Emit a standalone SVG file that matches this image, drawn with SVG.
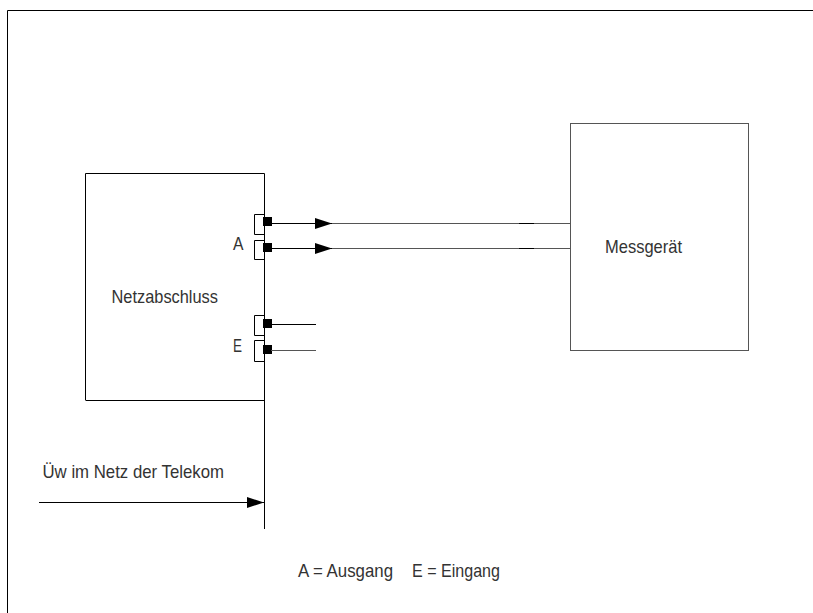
<svg xmlns="http://www.w3.org/2000/svg" width="813" height="613" viewBox="0 0 813 613">
<defs>
<style>
.ln{stroke:#000;stroke-width:1;fill:none}
.gl{stroke:#555;stroke-width:1;fill:none}
.t{font-family:"Liberation Sans",Arial,sans-serif;font-size:19px;fill:#333}
.sq{fill:#000}
</style>
<marker id="arr" viewBox="0 0 17 11" refX="17" refY="5.5" markerWidth="17" markerHeight="11" markerUnits="userSpaceOnUse" orient="auto">
<path d="M0,0 L17,5.5 L0,11 Z" fill="#000"/>
</marker>
</defs>
<rect width="813" height="613" fill="#fff"/>
<path class="ln" d="M7.5,613 V10.5 H813" stroke="#444"/>
<g id="netzabschluss">
<path class="ln" d="M85.5,400 V173.5 H264.5"/>
<line class="ln" x1="85.5" y1="400.5" x2="264.5" y2="400.5"/>
<text class="t" x="111.5" y="302.5" textLength="106.5" lengthAdjust="spacingAndGlyphs">Netzabschluss</text>
</g>
<g id="messgeraet">
<rect class="gl" x="570.5" y="123.5" width="178" height="227"/>
<text class="t" x="605" y="252.5" textLength="77" lengthAdjust="spacingAndGlyphs">Messgerät</text>
</g>
<g id="port-a">
<path class="ln" d="M264,214.5 H254.5 V234.5 H264"/>
<path class="ln" d="M264,240.5 H254.5 V259.5 H264"/>
<rect class="sq" x="263" y="217" width="9" height="9"/>
<rect class="sq" x="263" y="243" width="9" height="9"/>
<text class="t" x="233" y="250" textLength="10.5" lengthAdjust="spacingAndGlyphs">A</text>
</g>
<g id="port-e">
<path class="ln" d="M264,315.5 H254.5 V335.5 H264"/>
<path class="ln" d="M264,340.5 H254.5 V361.5 H264"/>
<rect class="sq" x="263" y="319" width="9" height="9"/>
<rect class="sq" x="263" y="345" width="9" height="9"/>
<text class="t" x="233" y="352" textLength="9" lengthAdjust="spacingAndGlyphs">E</text>
</g>
<g id="connectors">
<line class="ln" x1="264.5" y1="173.5" x2="264.5" y2="529"/>
<line class="ln" x1="271" y1="223.5" x2="332" y2="223.5" marker-end="url(#arr)"/>
<line class="gl" x1="332" y1="223.5" x2="570" y2="223.5"/>
<line class="ln" x1="519" y1="223.5" x2="534" y2="223.5"/>
<line class="ln" x1="271" y1="248.5" x2="332" y2="248.5" marker-end="url(#arr)"/>
<line class="gl" x1="332" y1="248.5" x2="570" y2="248.5"/>
<line class="ln" x1="519" y1="248.5" x2="534" y2="248.5"/>
<line class="ln" x1="271" y1="324.5" x2="316" y2="324.5"/>
<line class="gl" x1="271" y1="350.5" x2="316" y2="350.5"/>
<line class="ln" x1="39" y1="502.5" x2="264" y2="502.5" marker-end="url(#arr)"/>
</g>
<g id="labels">
<text class="t" x="42.5" y="478" textLength="181.5" lengthAdjust="spacingAndGlyphs">Üw im Netz der Telekom</text>
<text class="t" x="298" y="577" textLength="95" lengthAdjust="spacingAndGlyphs">A = Ausgang</text>
<text class="t" x="412" y="577" textLength="88" lengthAdjust="spacingAndGlyphs">E = Eingang</text>
</g>
</svg>
